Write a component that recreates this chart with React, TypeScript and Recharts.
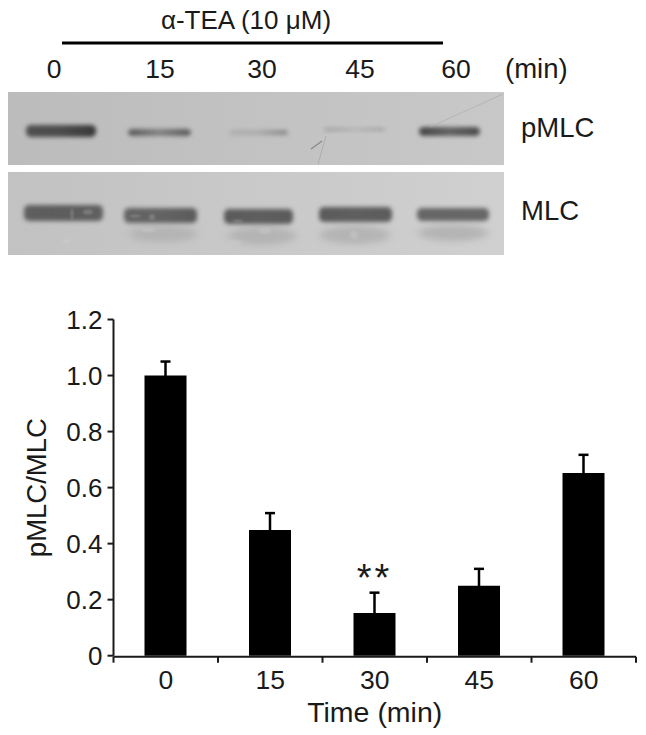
import { BarChart, Bar, XAxis, YAxis, ErrorBar, LabelList } from 'recharts'

const times = ['0', '15', '30', '45', '60']
const ratios = [1.0, 0.449, 0.152, 0.25, 0.652]
const errors = [0.05, 0.06, 0.073, 0.06, 0.065]
const notes = ['', '', '**', '', '']
const yTicks = [0, 0.2, 0.4, 0.6, 0.8, 1.0, 1.2]
// the x ticks sit between the bars; this axis runs over the row indexes 0..4
const edgeTicks = [0, 0.8, 1.6, 2.4, 3.2, 4]

const rows = times.map((time, i) => ({
  time,
  ratio: ratios[i],
  err: errors[i],
  note: notes[i],
}))

// blot lanes: left, right, top, bottom, then darkness at left / middle / right
const pmlcLanes = [
  [26, 96, 125, 137, 0.76, 0.78, 0.92],
  [128, 191, 129, 136, 0.7, 0.42, 0.7],
  [229, 288, 130, 135, 0.12, 0.16, 0.4],
  [324, 385, 128, 131, 0.3, 0.12, 0.26],
  [419, 480, 127, 136, 0.84, 0.64, 0.8],
]
const mlcLanes = [
  [24, 103, 205, 221, 0.66, 0.68, 0.66],
  [124, 197, 208, 223, 0.64, 0.64, 0.7],
  [224, 293, 209, 224, 0.7, 0.68, 0.7],
  [319, 392, 207, 222, 0.7, 0.68, 0.7],
  [417, 489, 208, 221, 0.64, 0.64, 0.64],
]
// lighter flecks inside the MLC bands
const mlcSpots = [
  [72, 214, 1.5, 6],
  [88, 212, 5, 2.5],
  [152, 217, 3, 3],
  [135, 216, 6, 1.5],
  [238, 221, 5, 1.5],
]
// the haze under the MLC bands and the pale marks in it
const mlcHaze = [
  [163, 234, 34, 8],
  [262, 236, 34, 9],
  [355, 235, 35, 9],
  [453, 233, 35, 8],
]
const hazeMarks = [
  [66, 241, 4, 2],
  [148, 230, 8, 2],
  [236, 242, 7, 2],
  [265, 231, 6, 3],
  [354, 235, 4, 4],
]

const FONT = '"Liberation Sans", Arial, sans-serif'
const INK = '#1a1a1a'

function Blot() {
  return (
    <svg width={646} height={300} style={{ position: 'absolute', left: 0, top: 0 }}>
      <defs>
        <filter id="soft" x="-20%" y="-100%" width="140%" height="300%" colorInterpolationFilters="sRGB">
          <feGaussianBlur stdDeviation="2.2 2" />
        </filter>
        <filter id="haze" x="-40%" y="-80%" width="180%" height="260%" colorInterpolationFilters="sRGB">
          <feGaussianBlur stdDeviation="4 3" />
        </filter>
        <filter id="spot" x="-150%" y="-150%" width="400%" height="400%" colorInterpolationFilters="sRGB">
          <feGaussianBlur stdDeviation="1.2" />
        </filter>
        <filter id="panel" colorInterpolationFilters="sRGB">
          <feGaussianBlur stdDeviation="0.5" />
        </filter>
        <linearGradient id="topPanel">
          <stop offset="0" stopColor="#bcbcbc" />
          <stop offset="1" stopColor="#c8c8c8" />
        </linearGradient>
        <linearGradient id="lowPanel">
          <stop offset="0" stopColor="#c2c2c2" />
          <stop offset="1" stopColor="#d0d0d0" />
        </linearGradient>
        {pmlcLanes.concat(mlcLanes).map(([, , , , a, b, c], i) => (
          <linearGradient key={i} id={`lane${i}`}>
            <stop offset="0" stopColor="#2c2c2c" stopOpacity={a} />
            <stop offset="0.5" stopColor="#2c2c2c" stopOpacity={b} />
            <stop offset="1" stopColor="#2c2c2c" stopOpacity={c} />
          </linearGradient>
        ))}
      </defs>
      <rect x={8} y={92} width={496} height={73} fill="url(#topPanel)" filter="url(#panel)" />
      <rect x={8} y={172} width={496} height={83} fill="url(#lowPanel)" filter="url(#panel)" />
      {mlcHaze.map(([cx, cy, rx, ry], i) => (
        <ellipse key={i} cx={cx} cy={cy} rx={rx} ry={ry} fill="#b4b4b4" filter="url(#haze)" />
      ))}
      {hazeMarks.map(([cx, cy, rx, ry], i) => (
        <ellipse key={i} cx={cx} cy={cy} rx={rx} ry={ry} fill="#d2d2d2" opacity={0.35} filter="url(#spot)" />
      ))}
      {pmlcLanes.concat(mlcLanes).map(([l, r, t, b], i) => (
        <rect key={i} x={l} y={t} width={r - l} height={b - t} rx={5} fill={`url(#lane${i})`} filter="url(#soft)" />
      ))}
      {mlcSpots.map(([cx, cy, rx, ry], i) => (
        <ellipse key={i} cx={cx} cy={cy} rx={rx} ry={ry} fill="#a6a6a6" opacity={0.4} filter="url(#spot)" />
      ))}
      <g fill="none" filter="url(#panel)">
        <path d="M311 149 L322 141" stroke="#8c8c8c" strokeWidth={1.4} />
        <path d="M326 136 L318 164" stroke="#adadad" strokeWidth={1} />
        <path d="M430 127 L503 94" stroke="#b0b0b0" strokeWidth={0.8} />
      </g>
      <rect x={62} y={41.5} width={381} height={3} fill="#000" />
      <g fontFamily={FONT} fill={INK}>
        <text x={246} y={29} textAnchor="middle" fontSize={26}>α-TEA (10 μM)</text>
        <g fontSize={26.5}>
          <text x={54} y={78} textAnchor="middle">0</text>
          <text x={160} y={78} textAnchor="middle">15</text>
          <text x={262} y={78} textAnchor="middle">30</text>
          <text x={360} y={78} textAnchor="middle">45</text>
          <text x={456} y={78} textAnchor="middle">60</text>
          <text x={505} y={78} fontSize={27.5}>(min)</text>
        </g>
        <text x={521} y={137} fontSize={27.5}>pMLC</text>
        <text x={521} y={220} fontSize={27.5}>MLC</text>
      </g>
    </svg>
  )
}

export default function App() {
  return (
    <div style={{ position: 'absolute', left: 0, top: 0, width: 646, height: 735, background: '#fff' }}>
      <Blot />
      <BarChart
        width={646}
        height={735}
        data={rows}
        margin={{ top: 319.5, right: 10, bottom: 77.3, left: 0 }}
        style={{ position: 'absolute', left: 0, top: 0 }}
      >
        <XAxis
          dataKey="time"
          height={1}
          axisLine={false}
          tickLine={false}
          tickMargin={8}
          tick={{ fontSize: 26.5, fontFamily: FONT, fill: INK }}
          label={{ value: 'Time (min)', position: 'insideBottom', offset: -65, fontSize: 28.5, fontFamily: FONT, fill: INK }}
        />
        <XAxis
          xAxisId="edges"
          type="number"
          domain={[0, 4]}
          ticks={edgeTicks}
          interval={0}
          height={1}
          tickFormatter={() => ''}
          tickSize={6}
          stroke={INK}
          strokeWidth={2}
        />
        <YAxis
          domain={[0, 1.2]}
          ticks={yTicks}
          width={113.5}
          interval={0}
          tickSize={6}
          tickMargin={5}
          stroke={INK}
          strokeWidth={2}
          tickFormatter={(v: number) => (v === 0 ? '0' : v.toFixed(1))}
          tick={{ fontSize: 26, fontFamily: FONT, fill: INK, strokeWidth: 0 }}
          label={{ value: 'pMLC/MLC', angle: -90, position: 'insideLeft', offset: 36, fontSize: 27.5, fontFamily: FONT, fill: INK, strokeWidth: 0, style: { textAnchor: 'middle' } }}
        />
        <Bar dataKey="ratio" fill="#000" barSize={42} isAnimationActive={false}>
          <ErrorBar dataKey="err" direction="y" width={5} stroke="#000" strokeWidth={2.5} isAnimationActive={false} />
          <LabelList dataKey="note" position="top" offset={22} fontSize={38} fontFamily={FONT} fill={INK} letterSpacing={3} />
        </Bar>
      </BarChart>
    </div>
  )
}
